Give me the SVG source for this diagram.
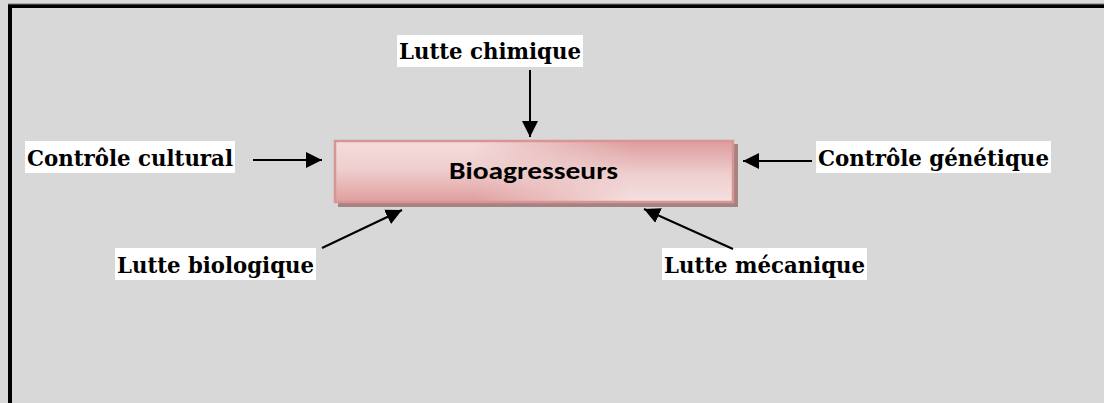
<svg xmlns="http://www.w3.org/2000/svg" width="1104" height="403" viewBox="0 0 1104 403">
<style>
.lbl{font-family:"DejaVu Serif","Liberation Serif",serif;font-weight:bold;font-size:22px;fill:#000}
.bg{fill:#fff}
.conn{stroke:#000;stroke-width:2;fill:none;marker-end:url(#ah)}
</style>
<defs>
<marker id="ah" viewBox="0 0 10 10" refX="10" refY="5" markerWidth="8" markerHeight="8" markerUnits="strokeWidth" orient="auto">
<path d="M0,0 L10,5 L0,10 Z" fill="#000"/>
</marker>
<linearGradient id="gA" x1="0" y1="0" x2="0" y2="1">
<stop offset="0" stop-color="#f4dcdc"/>
<stop offset="0.45" stop-color="#efcfcf"/>
<stop offset="1" stop-color="#e09c9c"/>
</linearGradient>
<linearGradient id="gB" x1="0" y1="0" x2="0" y2="1">
<stop offset="0" stop-color="#dd9a9a"/>
<stop offset="0.55" stop-color="#efcfcf"/>
<stop offset="1" stop-color="#f5e0e0"/>
</linearGradient>
<linearGradient id="mg" x1="0" y1="0" x2="1" y2="0">
<stop offset="0" stop-color="#000"/>
<stop offset="0.35" stop-color="#000"/>
<stop offset="0.75" stop-color="#fff"/>
<stop offset="1" stop-color="#fff"/>
</linearGradient>
<mask id="m" maskUnits="userSpaceOnUse" x="334" y="140" width="400" height="63">
<rect x="334" y="140" width="400" height="63" fill="url(#mg)"/>
</mask>
</defs>
<rect x="0" y="0" width="1104" height="403" fill="#d8d8d8"/>
<rect x="10" y="6" width="1110" height="420" fill="none" stroke="#000" stroke-width="4"/>
<line x1="8" y1="4" x2="1104" y2="4" stroke="#7a7a7a" stroke-width="1"/>

<g id="bioagresseurs">
<rect x="338" y="144" width="400" height="63" fill="#a58383"/>
<rect x="334" y="140" width="400" height="63" fill="url(#gA)"/>
<rect x="334" y="140" width="400" height="63" fill="url(#gB)" mask="url(#m)"/>
<rect x="335" y="141" width="398" height="61" fill="none" stroke="#d99594" stroke-width="2.5"/>
<text x="533.5" y="179" text-anchor="middle" font-family="Carlito,'Open Sans','Liberation Sans',sans-serif" font-weight="bold" font-size="25" textLength="169" lengthAdjust="spacingAndGlyphs">Bioagresseurs</text>
</g>

<g id="lutte-chimique">
<rect class="bg" x="397" y="35" width="186" height="32"/>
<text class="lbl" x="399" y="59" textLength="182" lengthAdjust="spacingAndGlyphs">Lutte chimique</text>
</g>
<g id="controle-cultural">
<rect class="bg" x="25" y="141" width="210" height="32"/>
<text class="lbl" x="27" y="166" textLength="206" lengthAdjust="spacingAndGlyphs">Contrôle cultural</text>
</g>
<g id="controle-genetique">
<rect class="bg" x="816" y="141" width="235" height="32"/>
<text class="lbl" x="818" y="166" textLength="231" lengthAdjust="spacingAndGlyphs">Contrôle génétique</text>
</g>
<g id="lutte-biologique">
<rect class="bg" x="115" y="248" width="201" height="32"/>
<text class="lbl" x="117" y="273" textLength="197" lengthAdjust="spacingAndGlyphs">Lutte biologique</text>
</g>
<g id="lutte-mecanique">
<rect class="bg" x="662" y="248" width="205" height="32"/>
<text class="lbl" x="664" y="273" textLength="201" lengthAdjust="spacingAndGlyphs">Lutte mécanique</text>
</g>

<g id="connectors">
<line class="conn" x1="530" y1="70" x2="530" y2="137"/>
<line class="conn" x1="253" y1="160" x2="322" y2="160"/>
<line class="conn" x1="812" y1="161" x2="743" y2="161"/>
<line class="conn" x1="322" y1="248" x2="402" y2="210"/>
<line class="conn" x1="733" y1="249" x2="644" y2="209"/>
</g>
</svg>
